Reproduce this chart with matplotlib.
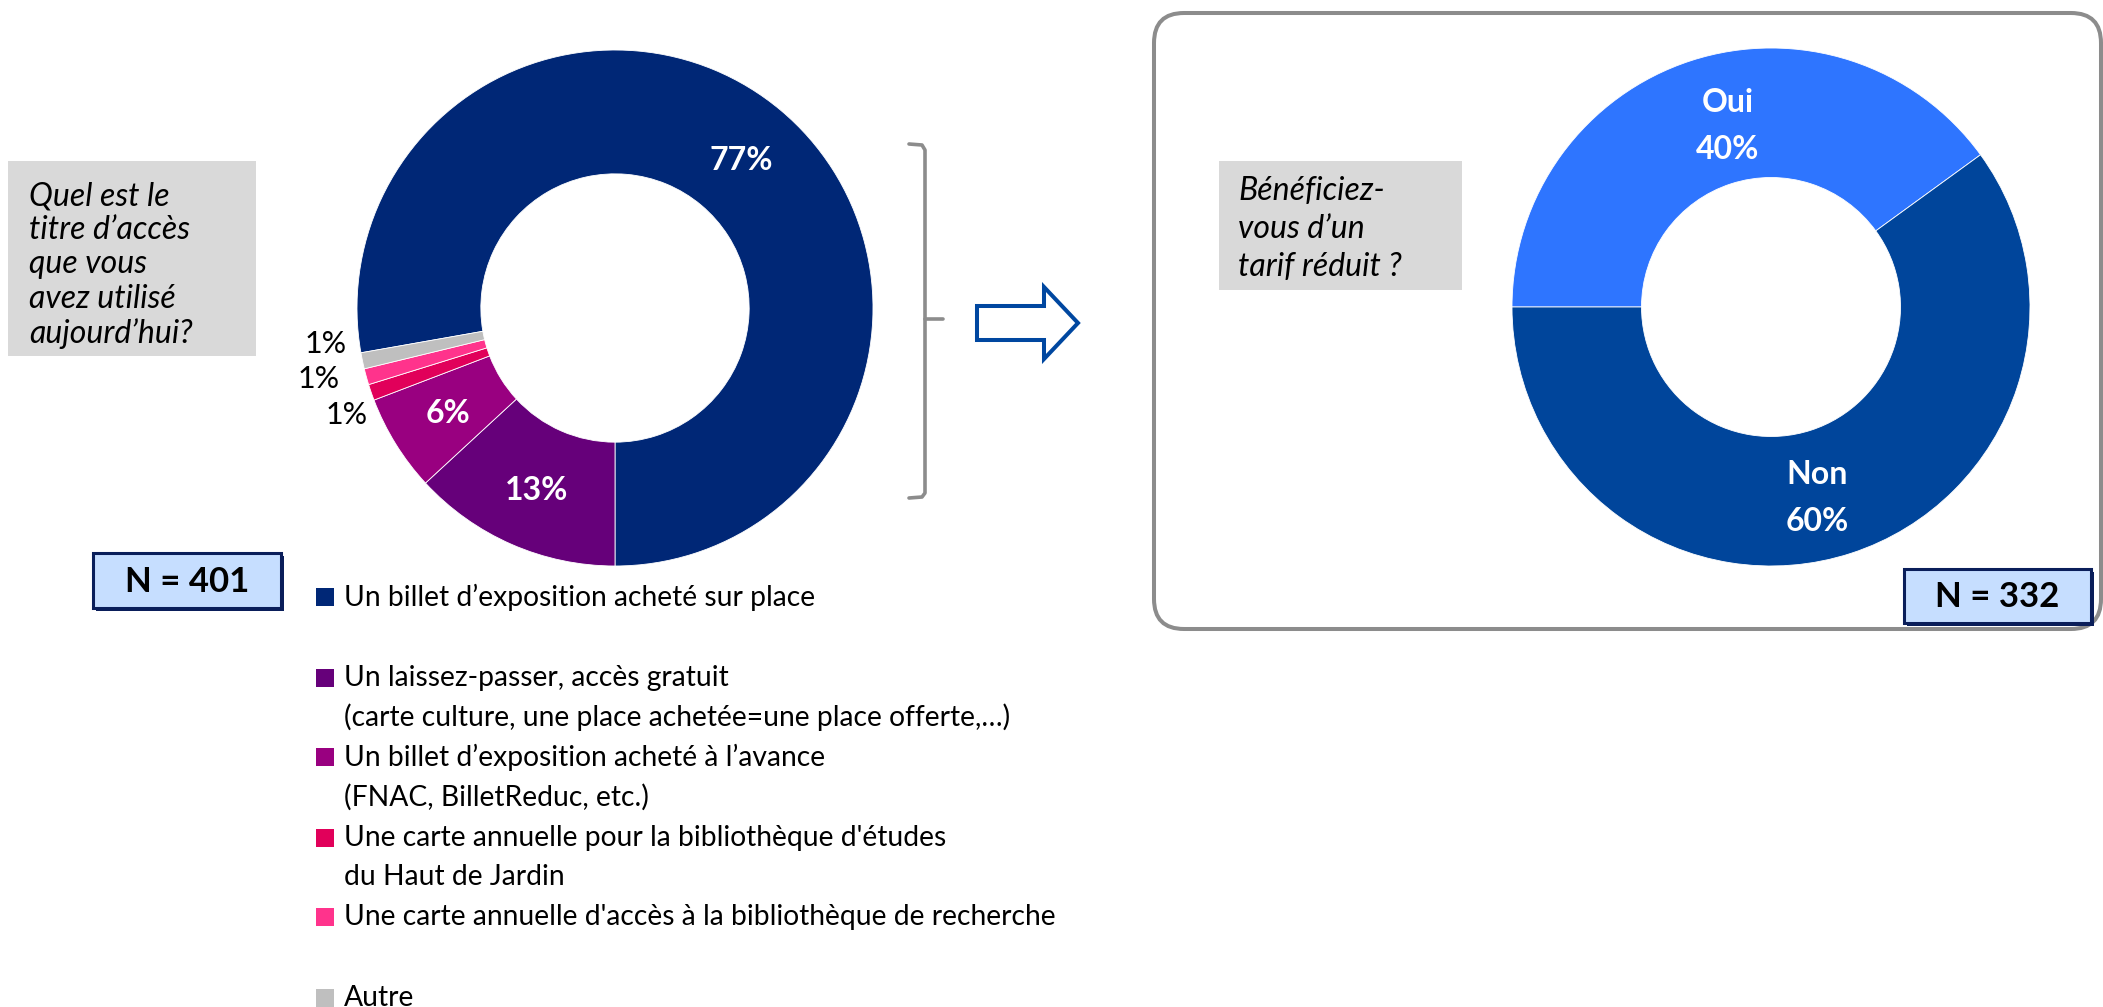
import matplotlib
matplotlib.use("Agg")
import matplotlib.pyplot as plt
from matplotlib.patches import Rectangle, FancyBboxPatch, Polygon
import numpy as np

# --- donnees ---
titre_labels = [
    "Un billet d\u2019exposition achet\u00e9 sur place",
    "Un laissez-passer, acc\u00e8s gratuit\n(carte culture, une place achet\u00e9e=une place offerte,\u2026)",
    "Un billet d\u2019exposition achet\u00e9 \u00e0 l\u2019avance\n(FNAC, BilletReduc, etc.)",
    "Une carte annuelle pour la biblioth\u00e8que d'\u00e9tudes\ndu Haut de Jardin",
    "Une carte annuelle d'acc\u00e8s \u00e0 la biblioth\u00e8que de recherche",
    "Autre",
]
titre_pct = [77, 13, 6, 1, 1, 1]
titre_colors = ["#002776", "#66007A", "#990080", "#E1005A", "#FF338C", "#BFBFBF"]

tarif_labels = ["Oui", "Non"]
tarif_pct = [40, 60]
tarif_colors = ["#2E75FF", "#00459B"]

n_titre = 401
n_tarif = 332

W, H = 2103, 1007
plt.rcParams['font.family'] = ['Lato', 'DejaVu Sans']
fig = plt.figure(figsize=(W / 100, H / 100), dpi=100)

# calque en pixels pour les cadres / textes
ov = fig.add_axes([0, 0, 1, 1])
ov.set_xlim(0, W)
ov.set_ylim(H, 0)
ov.axis('off')


def donut(cx, cy, r, vals, cols, start, width):
    ax = fig.add_axes([(cx - r) / W, 1 - (cy + r) / H, 2 * r / W, 2 * r / H])
    wedges, _ = ax.pie(vals, colors=cols, startangle=start, counterclock=False,
                       wedgeprops=dict(width=width, edgecolor='white', linewidth=0.6))
    ax.set_xlim(-1, 1)
    ax.set_ylim(-1, 1)
    return ax, wedges


def at(w, r, shift=0):
    a = np.deg2rad((w.theta1 + w.theta2) / 2 + shift)
    return r * np.cos(a), r * np.sin(a)


# donut gauche
ax1, w1 = donut(615, 308, 258, titre_pct, titre_colors, 190, 0.48)
for w, p in zip(w1[:3], titre_pct[:3]):
    x, y = at(w, 0.76)
    ax1.text(x, y, f"{p}%", color='white', fontsize=23, fontweight='bold',
             ha='center', va='center_baseline')
# petites parts : etiquettes a l'exterieur, decalees
for w, p, dr, da in zip(w1[3:], titre_pct[3:], [1.115, 1.18, 1.13], [2.2, -2.5, -5.3]):
    x, y = at(w, dr, da)
    ax1.text(x, y, f"{p}%", color='black', fontsize=22, ha='center', va='center_baseline',
             clip_on=False)

# donut droit
ax2, w2 = donut(1771, 307, 259, tarif_pct, tarif_colors, 180, 0.5)
for w, lab, p, r in zip(w2, tarif_labels, tarif_pct, [0.72, 0.76]):
    x, y = at(w, r, -4.5)
    ax2.text(x, y, f"{lab}\n{p}%", color='white', fontsize=23, fontweight='bold',
             ha='center', va='center', linespacing=1.75)

# cadre arrondi
ov.add_patch(FancyBboxPatch((1154, 13), 947, 616, boxstyle="round,pad=0,rounding_size=30",
                            fc='none', ec='#8C8C8C', lw=2.9))

# accolade
ov.plot([909, 922, 925, 925, 922, 909], [144, 145, 150, 493, 497, 498],
        color='#8C8C8C', lw=2.6, solid_capstyle='round')
ov.plot([925, 943], [319, 319], color='#8C8C8C', lw=2.6, solid_capstyle='round')

# fleche
ov.add_patch(Polygon([(977, 306), (1044, 306), (1044, 287), (1078, 323),
                      (1044, 359), (1044, 340), (977, 340)],
                     closed=True, fc='white', ec='#0047A0', lw=2.9))

# questions
ov.add_patch(Rectangle((8, 161), 248, 195, fc='#D9D9D9', ec='none'))
ov.text(29, 265, "Quel est le\ntitre d\u2019acc\u00e8s\nque vous\navez utilis\u00e9\naujourd\u2019hui?",
        fontsize=23, style='italic', ha='left', va='center', linespacing=1.17)
ov.add_patch(Rectangle((1219, 161), 243, 129, fc='#D9D9D9', ec='none'))
ov.text(1238, 229, "B\u00e9n\u00e9ficiez-\nvous d\u2019un\ntarif r\u00e9duit ?",
        fontsize=23, style='italic', ha='left', va='center', linespacing=1.32)


def nbox(x, y, w, h, n):
    ov.add_patch(Rectangle((x + 3, y + 3), w, h, fc='#0A1E5A', ec='none'))
    ov.add_patch(Rectangle((x, y), w, h, fc='#C6DEFF', ec='#0A1E5A', lw=2.2))
    ov.text(x + w / 2, y + h / 2 + 1, f"N = {n}", fontsize=25, fontweight='bold',
            ha='center', va='center')


nbox(93, 553, 188, 55, n_titre)
nbox(1904, 569, 187, 54, n_tarif)

# legende
leg_y = [[597], [678, 717], [757, 797], [838, 877], [917], [998]]
for lab, col, ys in zip(titre_labels, titre_colors, leg_y):
    ov.add_patch(Rectangle((316, ys[0] - 9), 18, 18, fc=col, ec='none'))
    for line, y in zip(lab.split("\n"), ys):
        ov.text(344, y, line, fontsize=20.3, ha='left', va='center')

fig.savefig("out.png", dpi=100)
